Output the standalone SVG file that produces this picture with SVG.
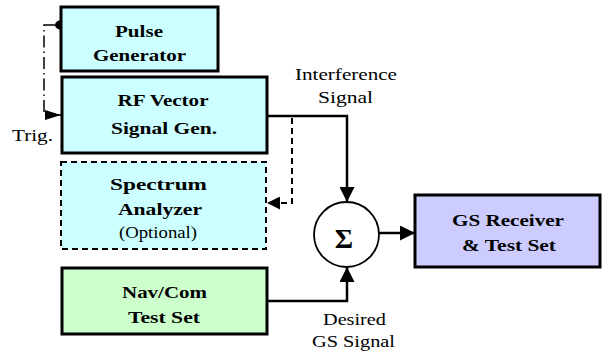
<svg xmlns="http://www.w3.org/2000/svg" width="602" height="352" viewBox="0 0 602 352">
<style>
.box{stroke:#000;stroke-width:3}
.cyan{fill:#ccffff}
.green{fill:#ccffcc}
.lav{fill:#ccccff}
.b{font-family:'Liberation Serif','DejaVu Serif',serif;font-weight:bold;font-size:17.5px;fill:#000;text-anchor:middle}
.r{font-family:'Liberation Serif','DejaVu Serif',serif;font-size:17.5px;fill:#000;text-anchor:middle}
.wire{fill:none;stroke:#000;stroke-width:2.5}
</style>
<defs>
<marker id="ah" markerUnits="userSpaceOnUse" markerWidth="15" markerHeight="15" refX="15" refY="7.5" orient="auto">
<path d="M0,0 L15,7.5 L0,15 z" fill="#000"/>
</marker>
<marker id="ahs" markerUnits="userSpaceOnUse" markerWidth="13" markerHeight="13" refX="13" refY="6.5" orient="auto">
<path d="M0,0 L13,6.5 L0,13 z" fill="#000"/>
</marker>
<marker id="aht" markerUnits="userSpaceOnUse" markerWidth="16" markerHeight="10" refX="16" refY="5" orient="auto">
<path d="M0,0 L16,5 L0,10 z" fill="#000"/>
</marker>
</defs>
<g id="connectors">
<path class="wire" d="M267,116 H347 V202" marker-end="url(#ah)"/>
<path class="wire" d="M267,301 H347 V267" marker-end="url(#ah)"/>
<path class="wire" d="M379,233 H415" marker-end="url(#ah)"/>
<path fill="none" stroke="#000" stroke-width="2" stroke-dasharray="6 4" d="M292,118 V203 H267" marker-end="url(#ahs)"/>
<path fill="none" stroke="#000" stroke-width="1.5" stroke-dasharray="12 4 1.5 4" d="M55,25 H44 V115 H61" marker-end="url(#aht)"/>
<ellipse cx="62" cy="25" rx="7" ry="5" fill="#000"/>
</g>
<g id="pulse-generator">
<rect class="box cyan" x="61" y="7" width="157" height="64"/>
<text class="b" x="139" y="37" textLength="48" lengthAdjust="spacingAndGlyphs">Pulse</text>
<text class="b" x="139.5" y="61" textLength="93" lengthAdjust="spacingAndGlyphs">Generator</text>
</g>
<g id="rf-vector-signal-gen">
<rect class="box cyan" x="62" y="77" width="205" height="76"/>
<text class="b" x="163" y="106" textLength="91" lengthAdjust="spacingAndGlyphs">RF Vector</text>
<text class="b" x="164" y="134" textLength="106" lengthAdjust="spacingAndGlyphs">Signal Gen.</text>
</g>
<g id="spectrum-analyzer">
<rect class="cyan" stroke="#000" stroke-width="2" stroke-dasharray="6 4" x="61" y="162" width="205" height="87"/>
<text class="b" x="158.5" y="190" textLength="97" lengthAdjust="spacingAndGlyphs">Spectrum</text>
<text class="b" x="160" y="215" textLength="84" lengthAdjust="spacingAndGlyphs">Analyzer</text>
<text class="r" x="158" y="238" textLength="78" lengthAdjust="spacingAndGlyphs">(Optional)</text>
</g>
<g id="navcom-test-set">
<rect class="box green" x="62" y="268" width="205" height="66"/>
<text class="b" x="164.5" y="298" textLength="85" lengthAdjust="spacingAndGlyphs">Nav/Com</text>
<text class="b" x="164" y="323" textLength="72" lengthAdjust="spacingAndGlyphs">Test Set</text>
</g>
<g id="summer">
<circle cx="346.5" cy="234.5" r="32.5" fill="#fff" stroke="#000" stroke-width="1.8"/>
<text class="b" x="344" y="248" style="font-size:28px">Σ</text>
</g>
<g id="gs-receiver">
<rect class="box lav" x="415" y="195" width="185" height="72"/>
<text class="b" x="508" y="226" textLength="112" lengthAdjust="spacingAndGlyphs">GS Receiver</text>
<text class="b" x="509" y="251" textLength="94" lengthAdjust="spacingAndGlyphs">&amp; Test Set</text>
</g>
<g id="labels">
<text class="r" x="346" y="80" textLength="102" lengthAdjust="spacingAndGlyphs">Interference</text>
<text class="r" x="345.5" y="103" textLength="55" lengthAdjust="spacingAndGlyphs">Signal</text>
<text class="r" x="354.5" y="325" textLength="63" lengthAdjust="spacingAndGlyphs">Desired</text>
<text class="r" x="353.5" y="347" textLength="83" lengthAdjust="spacingAndGlyphs">GS Signal</text>
<text class="r" x="32.5" y="141" textLength="41" lengthAdjust="spacingAndGlyphs">Trig.</text>
</g>
</svg>
